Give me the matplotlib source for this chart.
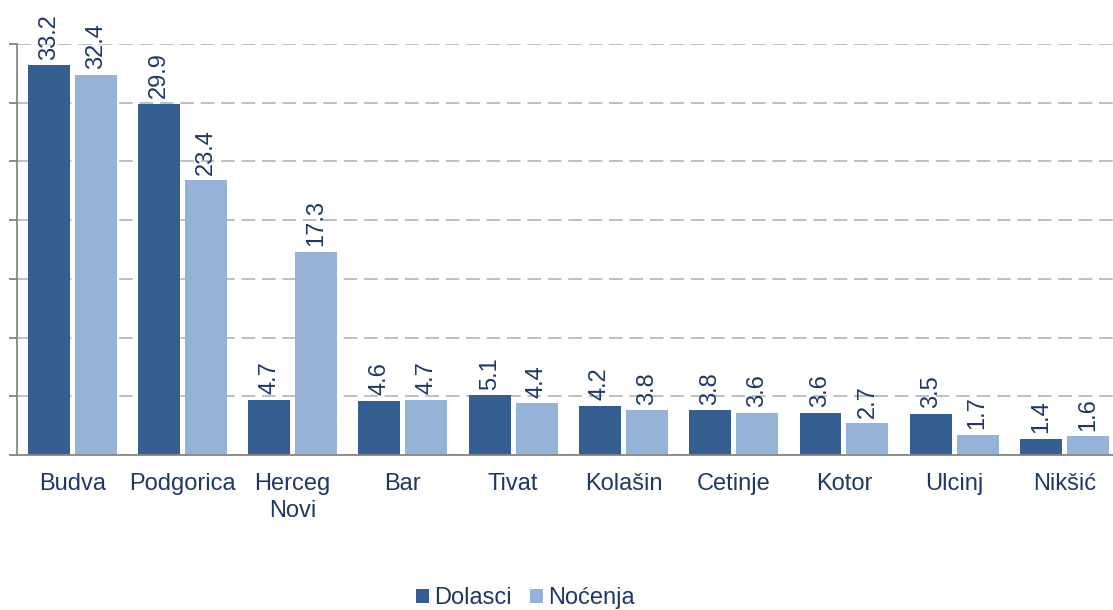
import matplotlib.pyplot as plt
import numpy as np

plt.rcParams['font.family'] = ['Liberation Sans', 'DejaVu Sans']

gradovi = ["Budva", "Podgorica", "Herceg\nNovi", "Bar", "Tivat", "Kolašin",
           "Cetinje", "Kotor", "Ulcinj", "Nikšić"]
dolasci = [33.2, 29.9, 4.7, 4.6, 5.1, 4.2, 3.8, 3.6, 3.5, 1.4]
nocenja = [32.4, 23.4, 17.3, 4.7, 4.4, 3.8, 3.6, 2.7, 1.7, 1.6]

tamna = "#365f91"
svijetla = "#95b3d7"
tekst = "#1f3864"

fig = plt.figure(figsize=(11.13, 6.10), dpi=100)
ax = fig.add_axes([17 / 1113, 1 - 455 / 610, 1 - 17 / 1113, 411 / 610])

x = np.arange(len(gradovi))
w = 0.38
off = 0.213
b1 = ax.bar(x - off, dolasci, w, color=tamna, label="Dolasci")
b2 = ax.bar(x + off, nocenja, w, color=svijetla, label="Noćenja")

for bars, vals in ((b1, dolasci), (b2, nocenja)):
    for r, v in zip(bars, vals):
        ax.annotate(f"{v:.1f}", (r.get_x() + r.get_width() / 2, v),
                    xytext=(0, 4), textcoords="offset points",
                    rotation=90, ha="center", va="bottom",
                    fontsize=17, color=tekst)

ax.set_ylim(0, 35)
ax.set_xlim(-0.5, 9.44)
ax.set_yticks(np.arange(0, 36, 5))
ax.set_yticklabels([])
ax.yaxis.grid(True, linestyle=(0, (7, 3.5)), color="#bfbfbf", linewidth=1.4)
ax.set_axisbelow(True)
ax.tick_params(axis="y", length=6, color="#868686", width=1.3)
ax.tick_params(axis="x", length=0, pad=13, labelsize=17, labelcolor=tekst)
ax.set_xticks(x)
ax.set_xticklabels(gradovi, linespacing=1.3)
for s in ("top", "right"):
    ax.spines[s].set_visible(False)
ax.spines["left"].set_color("#868686")
ax.spines["bottom"].set_color("#868686")
ax.spines["left"].set_linewidth(1.3)
ax.spines["bottom"].set_linewidth(1.3)

fig.legend(loc="center", bbox_to_anchor=(0.472, 1 - 598 / 610), ncol=2,
           frameon=False, fontsize=17, labelcolor=tekst, handlelength=0.55,
           handleheight=0.55, handletextpad=0.2, columnspacing=0.8)

fig.savefig("out.png", dpi=100)
